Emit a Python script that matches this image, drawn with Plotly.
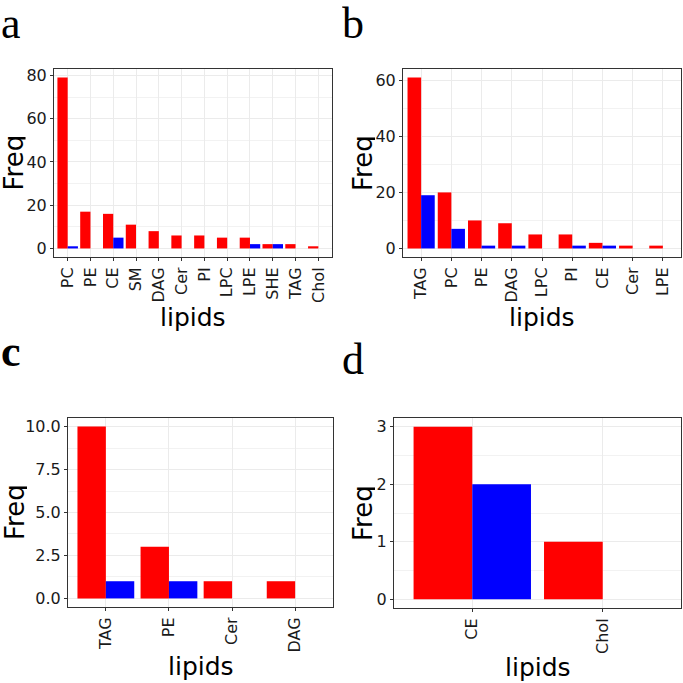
import plotly.graph_objects as go

# Panel a
a_cats = ["PC", "PE", "CE", "SM", "DAG", "Cer", "PI", "LPC", "LPE", "SHE", "TAG", "Chol"]
a_red = [79, 17, 16, 11, 8, 6, 6, 5, 5, 2, 2, 1]
a_blue = [1, 0, 5, 0, 0, 0, 0, 0, 2, 2, 0, 0]
# Panel b
b_cats = ["TAG", "PC", "PE", "DAG", "LPC", "PI", "CE", "Cer", "LPE"]
b_red = [61, 20, 10, 9, 5, 5, 2, 1, 1]
b_blue = [19, 7, 1, 1, 0, 1, 1, 0, 0]
# Panel c
c_cats = ["TAG", "PE", "Cer", "DAG"]
c_red = [10, 3, 1, 1]
c_blue = [1, 1, 0, 0]
# Panel d
d_cats = ["CE", "Chol"]
d_red = [3, 1]
d_blue = [2, 0]

W = H = 683

def px_x(p):
    return p / W

def px_y(p):
    return 1 - p / H

panels = [
    (a_cats, a_red, a_blue, (54, 332, 69, 257), [0, 20, 40, 60, 80], ["0", "20", "40", "60", "80"], 10, "a", (0, 23), 13.5, 318, False),
    (b_cats, b_red, b_blue, (403, 681, 69, 257), [0, 20, 40, 60], ["0", "20", "40", "60"], 10, "b", (341, 23), 363, 318, False),
    (c_cats, c_red, c_blue, (68, 333, 418, 607), [0, 2.5, 5, 7.5, 10], ["0.0", "2.5", "5.0", "7.5", "10.0"], 1.25, "c", (0, 351), 14.5, 666, True),
    (d_cats, d_red, d_blue, (394, 681, 418, 608), [0, 1, 2, 3], ["0", "1", "2", "3"], 0.5, "d", (341, 359), 363, 667, False),
]

fig = go.Figure()
annotations = []
layout = {}
tickfont = dict(family="DejaVu Sans", size=16, color="#1A1A1A")

for i, (cats, red, blue, dom, yt, ytt, minor, letter, lpos, fx, ly, bold) in enumerate(panels):
    n = i + 1
    xa = "x" if n == 1 else f"x{n}"
    ya = "y" if n == 1 else f"y{n}"
    xs = list(range(len(cats)))
    fig.add_trace(go.Bar(x=xs, y=red, marker=dict(color="#FF0000", line=dict(width=0)),
                         xaxis=xa, yaxis=ya, showlegend=False, offsetgroup="r"))
    fig.add_trace(go.Bar(x=xs, y=blue, marker=dict(color="#0000FF", line=dict(width=0)),
                         xaxis=xa, yaxis=ya, showlegend=False, offsetgroup="b"))
    ymax = max(red + blue)
    x0, x1, yt0, yb0 = dom
    axis_common = dict(showline=True, linecolor="#333333", linewidth=1, mirror=True,
                       ticks="outside", ticklen=3, tickcolor="#333333", tickwidth=1,
                       zeroline=False, gridcolor="#EBEBEB", gridwidth=1, tickfont=tickfont,
                       automargin=False)
    layout[f"xaxis{'' if n == 1 else n}"] = dict(
        domain=[px_x(x0), px_x(x1)], anchor=ya, range=[-0.6, len(cats) - 0.4],
        tickvals=xs, ticktext=cats, tickangle=-90, **axis_common)
    layout[f"yaxis{'' if n == 1 else n}"] = dict(
        domain=[px_y(yb0), px_y(yt0)], anchor=xa, range=[-0.05 * ymax, 1.05 * ymax],
        tickvals=yt, ticktext=ytt,
        minor=dict(dtick=minor, tick0=0, showgrid=True, gridcolor="#F2F2F2", gridwidth=0.6, ticks=""),
        **axis_common)
    annotations.append(dict(text=(f"<b>{letter}</b>" if bold else letter), xref="paper", yref="paper",
                            x=px_x(lpos[0]), y=px_y(lpos[1]), xanchor="left", yanchor="middle",
                            height=42, borderpad=0,
                            showarrow=False, font=dict(family="Liberation Serif", size=44, color="#000000")))
    annotations.append(dict(text="Freq", xref="paper", yref="paper", x=px_x(fx),
                            y=px_y((yt0 + yb0) / 2), xanchor="center", yanchor="middle", textangle=-90,
                            height=24, borderpad=0,
                            showarrow=False, font=dict(family="DejaVu Sans", size=26, color="#000000")))
    annotations.append(dict(text="lipids", xref="paper", yref="paper", x=px_x((x0 + x1) / 2),
                            y=px_y(ly), xanchor="center", yanchor="middle",
                            showarrow=False, font=dict(family="DejaVu Sans", size=25, color="#000000")))

fig.update_layout(width=W, height=H, margin=dict(l=0, r=0, t=0, b=0),
                  paper_bgcolor="white", plot_bgcolor="white",
                  barmode="group", bargap=0.1, bargroupgap=0,
                  annotations=annotations, **layout)

fig.write_html("out.html", config={"displayModeBar": False},
               post_script="document.body.style.margin='0';")
